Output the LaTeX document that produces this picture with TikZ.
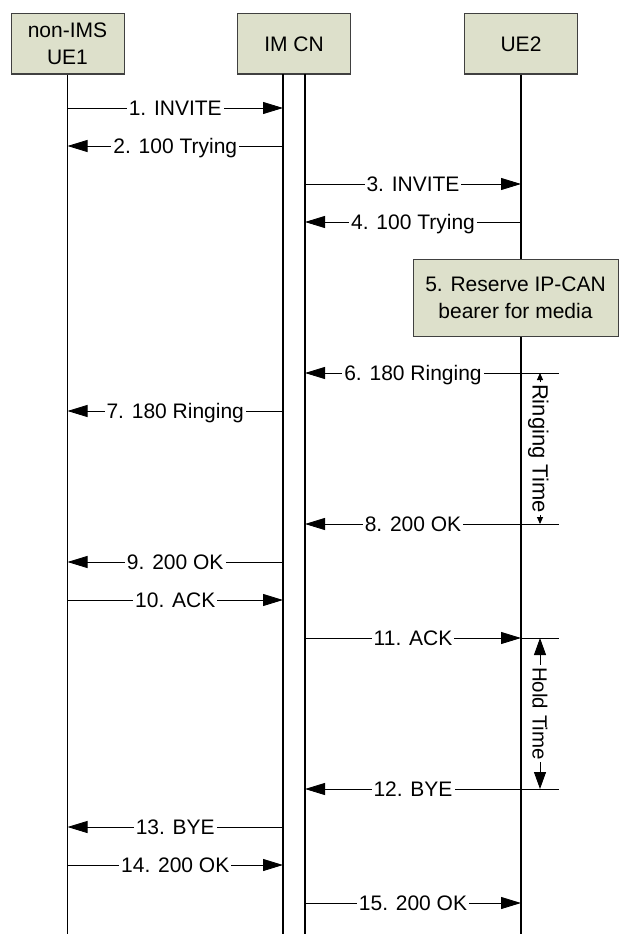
\documentclass[tikz,border=0pt]{standalone}
\usepackage{fontspec}
\setmainfont{Liberation Sans}
\usetikzlibrary{arrows.meta}
\definecolor{boxfill}{RGB}{221,224,203}
\tikzset{
  entity/.style={draw=black!75, fill=boxfill, line width=1pt, minimum width=113pt, minimum height=60pt, align=center},
  life/.style={line width=1.6pt},
  msg/.style={line width=0.9pt, -{Triangle[length=20pt,width=12pt]}},
  lbl/.style={fill=white, inner xsep=2pt, inner ysep=1pt, text height=15pt, text depth=0pt},
  tick/.style={line width=0.9pt},
  ringtimer/.style={line width=0.9pt, {Triangle[length=7pt,width=6pt]}-{Triangle[length=7pt,width=6pt]}},
  holdtimer/.style={line width=0.9pt, {Triangle[length=17pt,width=12pt]}-{Triangle[length=17pt,width=12pt]}}
}

\begin{document}
\begin{tikzpicture}[x=1pt,y=-1pt,font=\fontsize{21}{27}\selectfont]
  \useasboundingbox (0,0) rectangle (619,934);
  \node[entity] (ue1) at (67.5,44) {non-IMS\\UE1};
  \node[entity] (imcn) at (294,44) {IM CN};
  \node[entity] (ue2) at (521,44) {UE2};
  \coordinate (cnl) at (283,74);
  \coordinate (cnr) at (305,74);
  \coordinate (tk) at (559,0);
  \coordinate (tm) at (540,0);

  \draw[life] (ue1) -- (ue1 |- 0,934);
  \draw[life] (cnl) -- (cnl |- 0,934);
  \draw[life] (cnr) -- (cnr |- 0,934);
  \draw[life] (ue2) -- (ue2 |- 0,934);

  \node[entity, minimum width=205pt, minimum height=77pt] (resv) at (515.5,297.5) {5. Reserve IP-CAN\\bearer for media};

  \foreach \y/\a/\b/\txt in {108/ue1/cnl/1. INVITE, 146/cnl/ue1/2. 100 Trying, 184/cnr/ue2/3. INVITE, 222/ue2/cnr/4. 100 Trying,
      373/ue2/cnr/6. 180 Ringing, 411/cnl/ue1/7. 180 Ringing, 524/ue2/cnr/8. 200 OK, 562/cnl/ue1/9. 200 OK,
      600/ue1/cnl/10. ACK, 638/cnr/ue2/11. ACK, 789/ue2/cnr/12. BYE, 827/cnl/ue1/13. BYE,
      865/ue1/cnl/14. 200 OK, 903/cnr/ue2/15. 200 OK} {
    \draw[msg] (\a |- 0,\y) -- node[lbl] {\txt} (\b |- 0,\y);
  };

  \foreach \y in {373,524,638,789} {
    \draw[tick] (ue2 |- 0,\y) -- (tk |- 0,\y);
  };
  \draw[ringtimer] (tm |- 0,373) -- node[lbl, rotate=-90, font=\fontsize{22}{27}\selectfont] {Ringing Time} (tm |- 0,524);
  \draw[holdtimer] (tm |- 0,638) -- node[lbl, rotate=-90, font=\fontsize{20.5}{27}\selectfont] {Hold Time} (tm |- 0,789);
\end{tikzpicture}
\end{document}
